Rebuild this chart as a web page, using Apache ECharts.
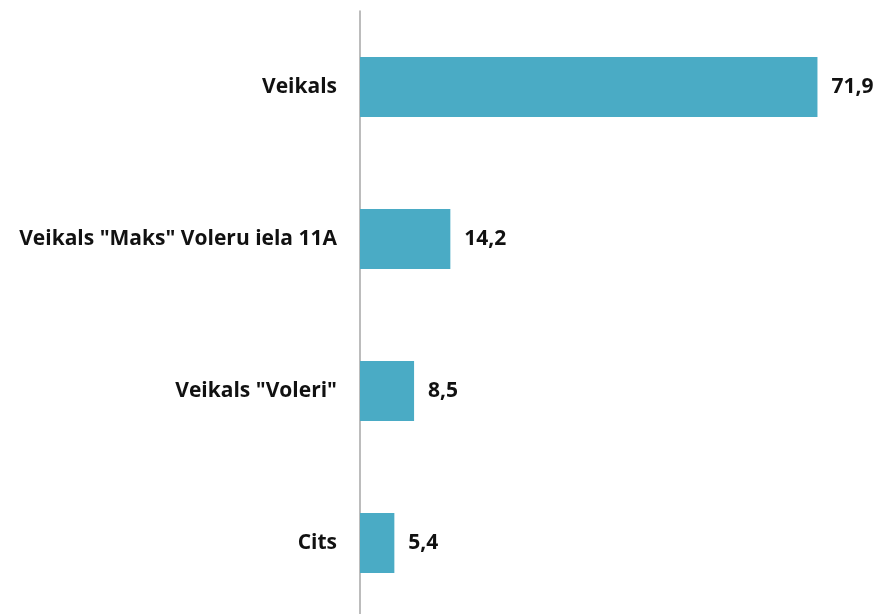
<!DOCTYPE html>
<html>
<head>
<meta charset="utf-8">
<script src="https://cdn.jsdelivr.net/npm/echarts@6/dist/echarts.min.js"></script>
<style>
html, body { margin: 0; padding: 0; background: #fff; }
#chart { width: 882px; height: 614px; }
</style>
</head>
<body>
<div id="chart"></div>
<script>
// kategorijas no augšas uz leju
var categories = ['Veikals', 'Veikals "Maks" Voleru iela 11A', 'Veikals "Voleri"', 'Cits'];
var values = [71.9, 14.2, 8.5, 5.4];

var chart = echarts.init(document.getElementById('chart'));
chart.setOption({
  animation: false,
  grid: {
    left: 360,
    right: 13,
    top: 11,
    height: 608,
    outerBoundsMode: 'none'
  },
  xAxis: {
    type: 'value',
    min: 0,
    max: 80,
    show: false
  },
  yAxis: {
    type: 'category',
    inverse: true,
    data: categories,
    axisLine: { lineStyle: { color: '#a6a6a6', width: 1.5 } },
    axisTick: { show: false },
    axisLabel: {
      margin: 23,
      color: '#111',
      fontSize: 21,
      fontWeight: 'bold',
      fontFamily: 'Open Sans'
    }
  },
  series: [{
    type: 'bar',
    data: values,
    barWidth: 60,
    itemStyle: { color: '#4aabc5' },
    label: {
      show: true,
      position: 'right',
      distance: 14,
      color: '#111',
      fontSize: 21,
      fontWeight: 'bold',
      fontFamily: 'Open Sans',
      formatter: function (p) { return p.value.toFixed(1).replace('.', ','); }
    }
  }]
});
</script>
</body>
</html>
